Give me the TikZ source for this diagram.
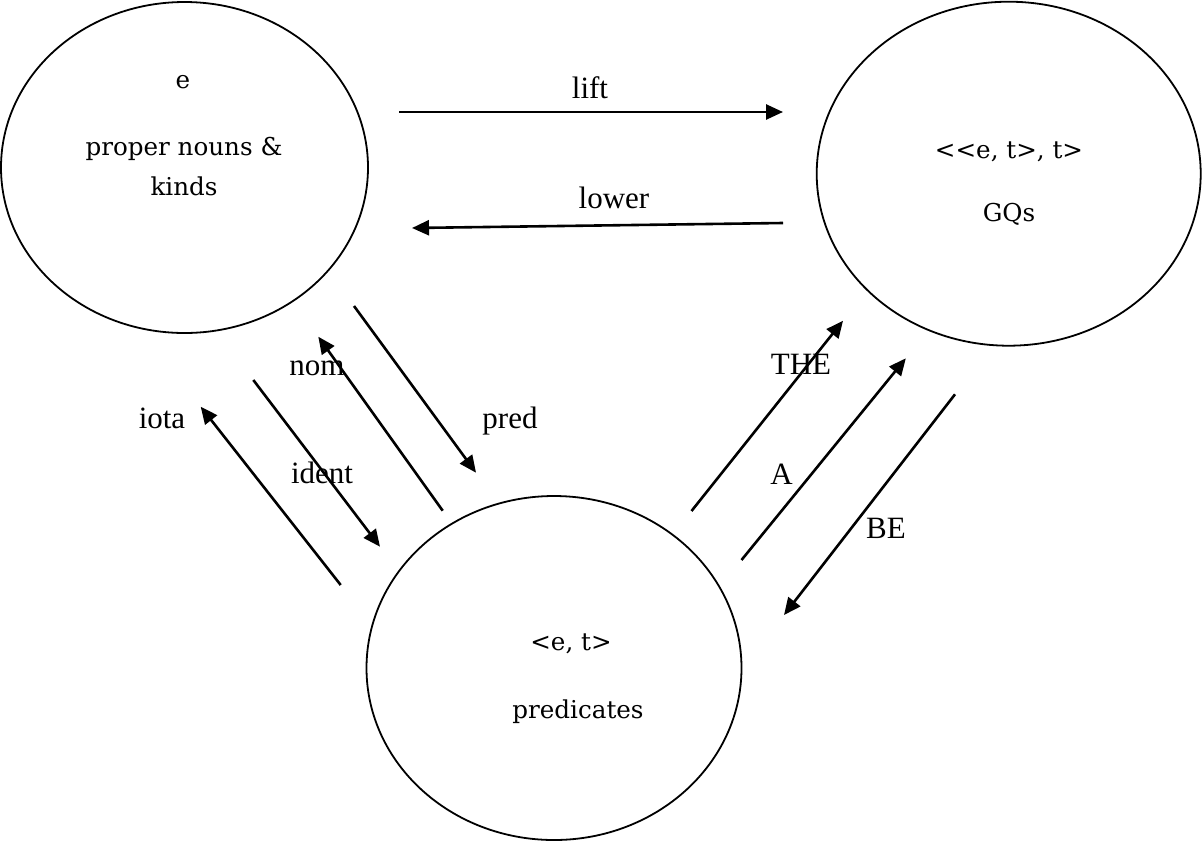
\documentclass[tikz,border=0pt]{standalone}
\usepackage{fontspec}
\setmainfont{Liberation Serif}
\newfontfamily\typefont{DejaVu Serif}
\usetikzlibrary{shapes.geometric,arrows.meta}
\tikzset{
  typeset/.style={draw, ellipse, line width=0.9pt, inner sep=0pt},
  typetext/.style={font=\typefont\fontsize{12.3}{14}\selectfont, anchor=base, inner sep=0pt},
  maplabel/.style={font=\fontsize{15.5}{18}\selectfont, anchor=base, inner sep=0pt},
  maparrow/.style={line width=1.3pt, -{Triangle[length=8.5pt,width=7.5pt]}}
}
\begin{document}
\begin{tikzpicture}[x=0.5pt,y=-0.5pt]
\useasboundingbox (0,0) rectangle (1203,841);
\node[typeset, minimum width=183.5pt, minimum height=165.5pt] (ent) at (184.5,167.5){};
\node[typeset, minimum width=192pt, minimum height=172pt] (gq) at (1008.7,173.7){};
\node[typeset, minimum width=187.5pt, minimum height=172pt] (pr) at (554,668){};
\node[typetext] (ent0) at (183,88){e};
\node[typetext] (ent1) at (184,155){proper nouns \&};
\node[typetext] (ent2) at (184,195){kinds};
\node[typetext] (gq0) at (1009,158){<<e, t>, t>};
\node[typetext] (gq1) at (1009,221){GQs};
\node[typetext] (pr0) at (571,650){<e, t>};
\node[typetext] (pr1) at (578,718){predicates};
\coordinate (lift0) at (399,112);
\coordinate (lift1) at (783,112);
\coordinate (lower0) at (783,223);
\coordinate (lower1) at (412,228);
\coordinate (iota0) at (340.7,585);
\coordinate (iota1) at (200.7,406.7);
\coordinate (ident0) at (253.3,380);
\coordinate (ident1) at (380,546.7);
\coordinate (nom0) at (442.7,510.7);
\coordinate (nom1) at (318.3,336.7);
\coordinate (pred0) at (354,306);
\coordinate (pred1) at (476,472.7);
\coordinate (the0) at (691.5,511);
\coordinate (the1) at (843,320.7);
\coordinate (a0) at (741.5,560);
\coordinate (a1) at (905.8,358.3);
\coordinate (be0) at (955,394.3);
\coordinate (be1) at (784,615);
\draw[maparrow](lift0) -- (lift1);
\draw[maparrow](lower0) -- (lower1);
\draw[maparrow](iota0) -- (iota1);
\draw[maparrow](ident0) -- (ident1);
\draw[maparrow](nom0) -- (nom1);
\draw[maparrow](pred0) -- (pred1);
\draw[maparrow](the0) -- (the1);
\draw[maparrow](a0) -- (a1);
\draw[maparrow](be0) -- (be1);
\node[maplabel] (liftl) at (590,98){lift};
\node[maplabel] (lowerl) at (614,208){lower};
\node[maplabel] (iotal) at (162,428){iota};
\node[maplabel] (identl) at (322,483){ident};
\node[maplabel] (noml) at (317,375){nom};
\node[maplabel] (predl) at (510,428){pred};
\node[maplabel] (thel) at (801,374){THE};
\node[maplabel] (al) at (781.5,484){A};
\node[maplabel] (bel) at (886,538){BE};
\end{tikzpicture}
\end{document}
